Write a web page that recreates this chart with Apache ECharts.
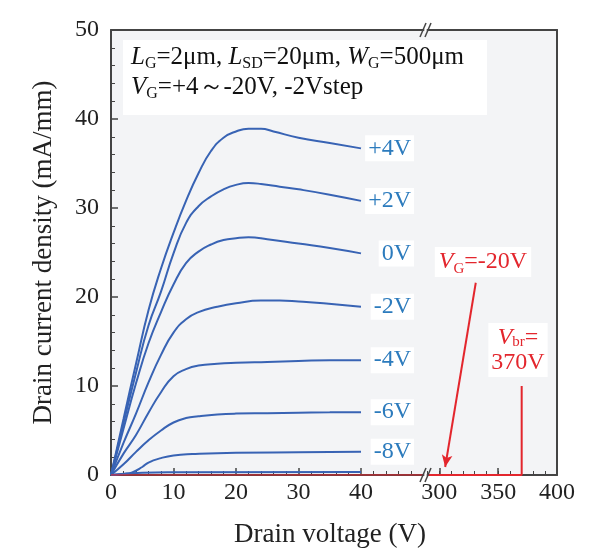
<!DOCTYPE html>
<html>
<head>
<meta charset="utf-8">
<script src="https://cdn.jsdelivr.net/npm/echarts@6/dist/echarts.min.js"></script>
<style>
html, body { margin: 0; background: #fff; }
#chart { width: 593px; height: 552px; }
</style>
</head>
<body>
<div id="chart"></div>
<script>
// gate voltages, drain current density (mA/mm) vs drain voltage (V)
const gateNames = ['+4V', '+2V', '0V', '-2V', '-4V', '-6V', '-8V', '-10V'];
const curveP4 = [[0,0],[2,6.3],[4,12.5],[6,18.5],[8,23.2],[10,27.2],[12,30.8],[14,33.9],[16,36.4],[18,37.9],[20,38.6],[22,38.9],[24,38.9],[26,38.6],[30,37.9],[35,37.3],[40,36.7]];
const curveP2 = [[0,0],[2,5.8],[4,11.5],[6,16.8],[8,20.6],[10,24.9],[12,28.3],[14,30.2],[16,31.3],[18,32.1],[20,32.6],[22,32.8],[24,32.7],[27,32.4],[30,32.1],[35,31.5],[40,30.8]];
const curve0 = [[0,0],[2,5.2],[4,10.3],[6,14.8],[8,18.3],[10,21.4],[12,23.8],[14,25.1],[16,25.9],[18,26.4],[20,26.6],[22,26.7],[25,26.5],[30,26.0],[35,25.5],[40,24.9]];
const curveM2 = [[0,0],[2,3.6],[4,6.9],[6,10.4],[8,13.5],[10,16.0],[12,17.5],[14,18.3],[17,18.9],[20,19.3],[24,19.6],[27,19.6],[30,19.5],[34,19.3],[40,18.9]];
const curveM4 = [[0,0],[2,2.4],[4,4.5],[6,7.0],[8,9.3],[10,11.1],[12,11.9],[14,12.3],[17,12.5],[20,12.6],[25,12.7],[30,12.8],[35,12.9],[40,12.9]];
const curveM6 = [[0,0],[2,1.2],[4,2.6],[6,3.9],[8,5.0],[10,5.9],[12,6.4],[14,6.6],[17,6.8],[20,6.9],[25,6.95],[30,7.0],[35,7.05],[40,7.06]];
const curveM8 = [[0,0],[2,0.1],[3.4,0.3],[5,0.9],[6,1.4],[8,1.9],[10,2.2],[13,2.35],[20,2.5],[30,2.55],[40,2.6]];
const curveM10 = [[0,0],[5,0.25],[10,0.3],[40,0.35]];
const curveM20Left = [[0,0],[50,0]];
const curveM20Right = [[290,0],[370,0],[370,10]];
const arrowStart = [331, 21.6];
const arrowEnd = [305, 0.9];
const xTicksLeft = [0, 10, 20, 30, 40];
const xTicksRight = [300, 350, 400];

const curves = [curveP4, curveP2, curve0, curveM2, curveM4, curveM6, curveM8, curveM10];

const FONT = 'Liberation Serif';
const BLUE = '#3863b4';
const LABEL_BLUE = '#2c7bbd';
const RED = '#e3262d';
const AXIS = '#444';
const PLOT_BG = '#f3f4f6';

let chart = echarts.init(document.getElementById('chart'));

let series = curves.map(function (data, i) {
    return {
        name: gateNames[i],
        type: 'line',
        xAxisIndex: 0,
        yAxisIndex: 0,
        data: data,
        smooth: 0.5,
        symbol: 'none',
        lineStyle: { color: BLUE, width: 2 },
        endLabel: {
            show: gateNames[i] !== '-10V',
            formatter: gateNames[i],
            color: LABEL_BLUE,
            fontFamily: FONT,
            fontSize: 24,
            align: 'right',
            distance: 53,
            backgroundColor: '#fff',
            padding: [1, 3]
        }
    };
});

series.push({
    name: '-20V',
    type: 'line',
    xAxisIndex: 0,
    yAxisIndex: 0,
    data: curveM20Left,
    symbol: 'none',
    lineStyle: { color: RED, width: 1.5, opacity: 0.8 }
});
series.push({
    name: '-20V',
    type: 'line',
    xAxisIndex: 2,
    yAxisIndex: 1,
    data: curveM20Right,
    symbol: 'none',
    lineStyle: { color: RED, width: 2 },
    markLine: {
        silent: true,
        symbol: ['none', 'arrow'],
        symbolSize: [8, 12],
        lineStyle: { color: RED, width: 2, type: 'solid' },
        label: { show: false },
        data: [[{ coord: arrowStart }, { coord: arrowEnd }]]
    }
});

const hiddenAxis = {
    axisTick: { show: false },
    axisLabel: { show: false },
    splitLine: { show: false },
    axisLine: { show: true, lineStyle: { color: AXIS, width: 2 } }
};

const option = {
    animation: false,
    grid: [
        { left: 111, top: 30, width: 312.5, height: 445, show: true, backgroundColor: PLOT_BG, borderWidth: 0 },
        { left: 427.5, top: 30, width: 129.5, height: 445, show: true, backgroundColor: PLOT_BG, borderWidth: 0 }
    ],
    xAxis: [
        {
            gridIndex: 0, type: 'value', position: 'bottom', min: 0, max: 50, interval: 10,
            axisLine: { lineStyle: { color: AXIS, width: 2 } },
            axisTick: { inside: true, length: 7, customValues: [10, 20, 30, 40], lineStyle: { color: AXIS, width: 1.5 } },
            minorTick: { show: true, splitNumber: 5, length: 4, lineStyle: { color: AXIS, width: 1 } },
            axisLabel: { customValues: xTicksLeft, color: '#222', fontFamily: FONT, fontSize: 24, margin: 6 },
            splitLine: { show: false }
        },
        Object.assign({ gridIndex: 0, type: 'value', position: 'top', min: 0, max: 50 }, hiddenAxis),
        {
            gridIndex: 1, type: 'value', position: 'bottom', min: 290, max: 400, interval: 10,
            axisLine: { lineStyle: { color: AXIS, width: 2 } },
            axisTick: { inside: true, length: 4, lineStyle: { color: AXIS, width: 1 } },
            axisLabel: { show: false },
            splitLine: { show: false }
        },
        {
            gridIndex: 1, type: 'value', position: 'bottom', min: 290, max: 400, interval: 10,
            axisLine: { show: false },
            axisTick: { inside: true, length: 7, customValues: xTicksRight, lineStyle: { color: AXIS, width: 1.5 } },
            axisLabel: { customValues: xTicksRight, color: '#222', fontFamily: FONT, fontSize: 24, margin: 6 },
            splitLine: { show: false }
        },
        Object.assign({ gridIndex: 1, type: 'value', position: 'top', min: 290, max: 400 }, hiddenAxis)
    ],
    yAxis: [
        {
            gridIndex: 0, type: 'value', min: 0, max: 50, interval: 10,
            name: 'Drain current density (mA/mm)',
            nameLocation: 'middle',
            nameGap: 54,
            nameTextStyle: { color: '#222', fontFamily: FONT, fontSize: 27 },
            axisLine: { show: true, lineStyle: { color: AXIS, width: 2 } },
            axisTick: { inside: true, length: 7, lineStyle: { color: AXIS, width: 1.5 } },
            minorTick: { show: true, splitNumber: 5, length: 4, lineStyle: { color: AXIS, width: 1 } },
            axisLabel: { color: '#222', fontFamily: FONT, fontSize: 24, margin: 12 },
            splitLine: { show: false }
        },
        Object.assign({ gridIndex: 1, type: 'value', position: 'right', min: 0, max: 50 }, hiddenAxis)
    ],
    graphic: [
        // fill the gap between the two plot panels
        {
            type: 'rect', left: 423, top: 31, z: -1,
            shape: { width: 5, height: 443 },
            style: { fill: PLOT_BG }
        },
        {
            type: 'rect', left: 123, top: 40, z: 10,
            shape: { width: 364, height: 75 },
            style: { fill: '#fff' }
        },
        {
            type: 'text', left: 131, top: 42, z: 11,
            style: {
                text: '{i|L}{s|G}=2μm, {i|L}{s|SD}=20μm, {i|W}{s|G}=500μm\n{i|V}{s|G}=+4～-20V, -2Vstep',
                fontFamily: FONT, fontSize: 25, lineHeight: 30, fill: '#111',
                rich: {
                    i: { fontStyle: 'italic', fontFamily: FONT, fontSize: 25, lineHeight: 30 },
                    s: { fontFamily: FONT, fontSize: 16, lineHeight: 16, verticalAlign: 'bottom' }
                }
            }
        },
        {
            type: 'text', x: 483, y: 262, z: 11,
            style: {
                text: '{i|V}{s|G}=-20V', align: 'center', verticalAlign: 'middle',
                fontFamily: FONT, fontSize: 24, lineHeight: 30, fill: RED,
                backgroundColor: '#fff', padding: [0, 4],
                rich: {
                    i: { fontStyle: 'italic', fontFamily: FONT, fontSize: 24, lineHeight: 30, fill: RED },
                    s: { fontFamily: FONT, fontSize: 15, lineHeight: 16, verticalAlign: 'bottom', fill: RED }
                }
            }
        },
        {
            type: 'text', x: 518, y: 350, z: 11,
            style: {
                text: '{i|V}{s|br}=\n370V', align: 'center', verticalAlign: 'middle',
                fontFamily: FONT, fontSize: 24, lineHeight: 25, fill: RED,
                backgroundColor: '#fff', padding: [2, 3],
                rich: {
                    i: { fontStyle: 'italic', fontFamily: FONT, fontSize: 24, lineHeight: 25, fill: RED },
                    s: { fontFamily: FONT, fontSize: 15, lineHeight: 14, verticalAlign: 'bottom', fill: RED }
                }
            }
        },
        {
            type: 'text', x: 330, y: 535, z: 11,
            style: {
                text: 'Drain voltage (V)', align: 'center', verticalAlign: 'middle',
                fontFamily: FONT, fontSize: 27, fill: '#222'
            }
        },
        // axis break marks
        { type: 'line', z: 12, shape: { x1: 420, y1: 37, x2: 426, y2: 23 }, style: { stroke: AXIS, lineWidth: 1.5 } },
        { type: 'line', z: 12, shape: { x1: 425, y1: 37, x2: 431, y2: 23 }, style: { stroke: AXIS, lineWidth: 1.5 } },
        { type: 'line', z: 12, shape: { x1: 420, y1: 482, x2: 426, y2: 468 }, style: { stroke: AXIS, lineWidth: 1.5 } },
        { type: 'line', z: 12, shape: { x1: 425, y1: 482, x2: 431, y2: 468 }, style: { stroke: AXIS, lineWidth: 1.5 } }
    ],
    series: series
};

chart.setOption(option);
</script>
</body>
</html>
